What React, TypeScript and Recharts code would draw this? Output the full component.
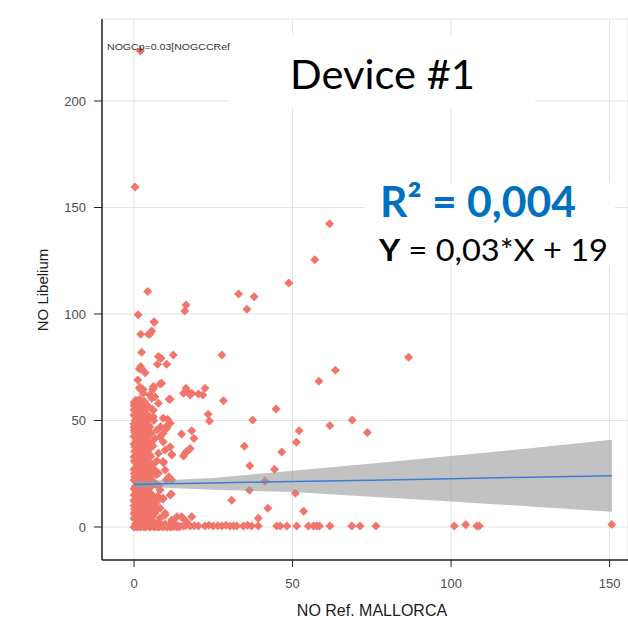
import {
  CartesianGrid,
  ComposedChart,
  Area,
  Line,
  Scatter,
  XAxis,
  YAxis,
} from 'recharts';

// axis ticks
const xTicks = [0, 50, 100, 150];
const yTicks = [0, 50, 100, 150, 200];

// [NO Ref. MALLORCA, NO Libelium] pairs
const outliers: [number, number][] = [
  [2, 223.5], [0.3, 159.6], [4.3, 110.6], [1.3, 99.7], [6.3, 96.4], [2.1, 90.5],
  [5, 90.6], [5.6, 92], [16.4, 104.2], [16, 101.4], [33, 109.4], [37.9, 108.1],
  [35.6, 102.2], [48.8, 114.6], [57, 125.5], [61.7, 142.4],
];

const midPoints: [number, number][] = [
  [27.7, 80.8], [86.6, 79.7], [63.5, 73.6], [58.3, 68.4], [16.4, 65.1], [15.6, 62.8],
  [17.7, 62], [22.4, 65.1], [21.7, 62], [28.2, 59.3], [44.8, 55.4], [23.4, 52.9],
  [23.8, 49.8], [37.4, 50.2], [68.8, 50.2], [61.8, 47.6], [52.1, 45.2], [73.6, 44.4],
  [15, 43.7], [18.2, 45.2], [18.9, 41.6], [51.2, 39.8], [17.5, 36.5], [16.6, 35.4],
  [15.6, 33.3], [34.8, 37.9], [46.6, 35.2], [36.5, 28.8], [44.3, 27.1], [41.3, 21.6],
  [36.4, 17.2], [50.9, 15.8], [30.8, 12.5], [42.2, 8.8], [53.5, 7.4], [39.2, 4.1],
  [15.4, 4.1],
];

const nearPoints: [number, number][] = [
  [6.4, 96.1], [4.5, 90.5], [2.4, 82], [7.7, 80], [8.5, 79.2], [12.4, 80.8], [7.4, 76.4],
  [10.3, 76.4], [2.1, 75.3], [2.7, 73.7], [1.7, 74.2], [3.5, 72.4], [1.2, 69], [8.7, 67.5],
  [8.2, 67.1], [6.1, 65.9], [5.9, 64.6], [6.1, 65.1], [1.9, 65.6], [2.9, 64.6], [1.7, 65.1],
  [2.9, 62.8], [5, 62], [6.6, 61.2], [16.6, 64], [18.2, 62.8], [20.3, 62.4], [5.6, 60.4],
  [11.1, 60], [11.4, 60], [7.7, 58.1], [5.7, 55.3], [0.6, 55.3], [6.1, 54.9], [6.1, 51.8],
  [9.2, 51], [10.6, 50.6], [11.4, 48.7], [11.1, 48.4], [10.1, 47.1], [8.4, 47.1], [10.3, 46.3],
  [7.2, 45.5], [9.2, 44], [8.2, 42.4], [6.6, 41.6], [9.2, 40], [5, 39.3], [11.4, 37.7],
  [17.7, 36.9], [9.8, 36.2], [7.7, 34.6], [16.1, 34.6], [11.9, 34.1], [5, 33.8], [11.9, 33.8],
  [9.2, 30.7], [9.3, 30.2], [9.8, 26.8], [7.7, 25.2], [11, 23.6], [10.8, 22.9], [10.1, 22.1],
  [11.9, 22.1], [7.7, 19.4], [5.6, 19.4], [2.9, 19.4], [8.2, 17.4], [11.8, 15.5], [11.4, 15],
  [9.2, 13.5], [9.1, 13], [7.2, 11.9], [5.6, 9.5], [8.2, 8.8], [9.8, 6.4], [9.8, 5.6],
  [8.2, 4.1], [11.9, 3.3], [13.5, 4.8], [15, 4.8], [18.2, 4.8], [16.6, 2.5],
];

const densePoints: [number, number][] = [
  [0, 57], [0.5, 54], [1, 56], [2, 52], [0.3, 50], [1.5, 49], [3, 51], [0, 47], [2.5, 46],
  [1, 44], [4, 45], [0.5, 42], [2, 41], [3.5, 43], [0, 39], [1.5, 38], [3, 37], [0.8, 36],
  [2.2, 35], [4.5, 36], [0, 33], [1.2, 32], [3, 31], [0.5, 30], [2, 29], [4, 30], [0, 27],
  [1.5, 26], [3, 27], [0.7, 24], [2.5, 23], [4, 24], [0, 22], [1.8, 21], [0.4, 19], [3.2, 18],
  [1, 17], [0, 15], [2.2, 16], [4, 14], [0.6, 13], [1.8, 12], [3, 11], [0, 10], [1.2, 9],
  [2.6, 8], [4.2, 9], [0.3, 7], [1.6, 6], [3.4, 5], [0, 4], [1, 3], [2.4, 2.5], [0.5, 1.5],
  [3.8, 2], [0, 48.5], [1, 52], [2.5, 55], [3.8, 53], [4.5, 48], [0.2, 44.5], [1.6, 41],
  [2.8, 39.5], [0.8, 33.5], [3.6, 33.5], [2, 31], [5, 28], [1, 28.5], [3.5, 25], [0.1, 25],
  [2, 25.5], [4.8, 21], [1.3, 23.5], [2.8, 20], [0.9, 20.5], [5.2, 16], [1.4, 14.5],
  [3.8, 12], [0.2, 12], [2.6, 13.5], [4.8, 6], [1.9, 10.5], [0.8, 8.5], [3.2, 7], [2.2, 4],
  [0.4, 5.5], [5.5, 11], [5.8, 25], [6, 38], [5.4, 44], [6.2, 50], [4.2, 57], [3.2, 59],
  [0.6, 59.5], [1.8, 60], [6.5, 30], [6.8, 20], [0, 52.5], [0.2, 35.5], [0.4, 17.5],
  [4.4, 40], [3.6, 47], [2.4, 44], [5.2, 33], [6.4, 27], [4.6, 18], [6.2, 14], [7, 8],
  [5.4, 3], [6.6, 6.5], [7.2, 31], [4.2, 28], [1.2, 46.5], [0, 42.5], [2.9, 15],
  // second pass over the solid block
  [0, 55], [1.4, 57.5], [2.6, 57], [3.4, 54.5], [0.8, 51], [2.2, 49.5], [3.9, 50], [4.8, 52],
  [0.1, 45.5], [1.8, 46], [3, 45], [5, 47], [0.6, 40.5], [2.8, 42.5], [3.8, 38.5], [5.6, 40],
  [0.3, 37.5], [1.9, 37], [3.2, 35], [4.9, 38], [0.1, 31], [1.6, 34], [2.7, 33], [4.1, 32.5],
  [0.6, 28], [1.8, 27.5], [2.9, 29.5], [4.4, 26], [5.6, 29.5], [0.2, 23.5], [1.5, 24.5],
  [3.3, 22.5], [4.3, 22], [5.4, 24], [0.6, 21.5], [2.1, 19], [3.6, 20], [5.1, 19], [0, 18],
  [1.2, 15.5], [2.6, 17.5], [3.8, 16.5], [0.5, 14.5], [1.4, 11], [3.2, 13], [4.6, 12.5],
  [0, 12.5], [2.2, 10], [3.6, 9.5], [5.2, 8], [0.8, 10.5], [0.2, 8.5], [1.8, 7.5], [3, 6],
  [4.4, 4.5], [0.6, 4], [1.6, 4.5], [2.8, 3], [5.8, 5], [0, 6.5], [1, 1.5], [2, 2], [3.4, 1.5],
  [4.8, 2], [6.2, 2.5], [1, 39.5], [2.4, 38], [4, 42], [1.4, 35.5], [2.8, 26], [4.7, 29.5],
  [6, 21.5], [6.4, 10.5], [7.4, 14.5], [7, 24.5], [0, 58.5], [2.2, 58.5], [1.2, 53.5],
  [3.2, 48], [4.2, 34.5], [0.4, 26.5], [2.4, 21], [1.6, 18.5], [3.8, 27.5], [2, 13],
];

const zeroRow: [number, number][] = [
  [0, 0], [0.5, 0.4], [1, 0], [1.5, 0.3], [2, 0], [2.5, 0.5], [3, 0.2], [3.5, 0], [4, 0.4],
  [4.5, 0.3], [5, 0], [5.5, 0.5], [6, 0.4], [6.5, 0], [7, 0.5], [7.5, 0], [8, 0.2], [8.5, 0.5],
  [9, 0], [9.5, 0.5], [10, 0.3], [10.5, 0], [11, 0.5], [11.5, 0], [12, 0.4], [12.5, 0.2],
  [13, 0.5], [13.5, 0], [14, 0.4], [14.5, 0.2], [15.6, 0.5], [17.7, 0.5], [20.3, 0.5],
  [22.4, 0.5], [25, 0.5], [27.7, 0.5], [30.3, 0.5], [32.4, 0.5], [34.5, 0.5], [37.1, 0.5],
  [39.2, 0.5], [45, 0.5], [46.1, 0.5], [48.2, 0.5], [51.3, 0.5], [55, 0.5], [56.6, 0.5],
  [57.6, 0.5], [58.5, 0.5], [61.8, 0.5], [68.7, 0.5], [71.3, 0.5], [76.3, 0.5], [101, 0.5],
  [104.6, 1], [108.1, 0.5], [108.9, 0.5], [150.7, 1.2],
  [0.8, 1.8], [2.2, 1.2], [3.8, 1], [5.2, 1.5], [6.8, 1.2], [8.2, 1.8], [9.8, 1.4],
  [11.2, 1.2], [12.8, 1.6], [1.6, 2.8], [4.6, 2.6], [7.6, 2.2], [16.4, 0.8], [19, 0.6],
  [23.6, 0.8], [26.4, 0.6], [29, 0.8], [31.4, 0.6], [35.8, 0.8],
];

// smooth fit and its confidence band
const bandX = [0, 10, 25, 50, 75, 100, 125, 150.7];
const bandLow = [18.1, 18.4, 17.5, 16.4, 14.2, 12.0, 9.6, 7.2];
const bandHigh = [21.9, 21.9, 23.0, 26.4, 29.8, 33.3, 37.0, 41.0];
const fitY = [20.0, 20.3, 20.7, 21.4, 22.0, 22.7, 23.4, 24.1];

const points = [...densePoints, ...zeroRow, ...nearPoints, ...midPoints, ...outliers].map(
  ([x, y]) => ({ x, y })
);
const bandRows = bandX.map((x, i) => ({ x, band: [bandLow[i], bandHigh[i]], fit: fitY[i] }));

const Diamond = (props: any) => {
  const { cx, cy } = props;
  const r = 4.5;
  return (
    <polygon
      points={`${cx},${cy - r} ${cx + r},${cy} ${cx},${cy + r} ${cx - r},${cy}`}
      fill="#F2756B"
    />
  );
};

const tickStyle = { fill: '#4D4D4D', fontSize: 13, fontFamily: 'Liberation Sans, Arial, sans-serif' };

export default function App() {
  return (
    <div style={{ position: 'absolute', left: 0, top: 0, width: 628, height: 620, background: '#fff' }}>
      <ComposedChart
        width={628}
        height={620}
        data={bandRows}
        margin={{ top: 19, right: 0, bottom: 0, left: 0 }}
      >
        <CartesianGrid stroke="#E3E3E3" />
        <XAxis
          dataKey="x"
          type="number"
          domain={[-10.1, 155.8]}
          allowDataOverflow
          ticks={xTicks}
          height={60}
          tick={tickStyle}
          tickSize={7}
          tickMargin={12}
          axisLine={{ stroke: '#222', strokeWidth: 1.5 }}
          tickLine={{ stroke: '#222' }}
        />
        <XAxis
          xAxisId="top"
          orientation="top"
          dataKey="x"
          type="number"
          domain={[-10.1, 155.8]}
          allowDataOverflow
          ticks={xTicks}
          height={0}
          tick={false}
          tickSize={8}
          axisLine={{ stroke: '#222', strokeWidth: 1.5 }}
          tickLine={{ stroke: '#222' }}
        />
        <YAxis
          type="number"
          domain={[-15.5, 238.5]}
          allowDataOverflow
          ticks={yTicks}
          width={102}
          tick={tickStyle}
          tickSize={8}
          tickMargin={8}
          axisLine={{ stroke: '#222', strokeWidth: 1.5 }}
          tickLine={{ stroke: '#222' }}
        />
        <Scatter data={points} dataKey="y" shape={Diamond} isAnimationActive={false} />
        <Area
          dataKey="band"
          type="linear"
          stroke="none"
          fill="#999999"
          fillOpacity={0.6}
          isAnimationActive={false}
          zIndex={700}
        />
        <Line
          dataKey="fit"
          type="linear"
          stroke="#3C7DD9"
          strokeWidth={1.5}
          dot={false}
          isAnimationActive={false}
          zIndex={800}
        />
      </ComposedChart>
      <svg
        width={628}
        height={620}
        style={{ position: 'absolute', left: 0, top: 0, pointerEvents: 'none' }}
      >
        <text x={107} y={50} fontSize={9} fill="#333" fontFamily="Liberation Sans, Arial, sans-serif" textLength={123} lengthAdjust="spacingAndGlyphs">
          NOGCp=0.03[NOGCCRef
        </text>
        <rect x={230} y={35} width={305} height={73} fill="#fff" />
        <text x={290} y={89} fontSize={40} fill="#000" fontFamily="Lato, sans-serif" textLength={185} lengthAdjust="spacingAndGlyphs">
          Device #1
        </text>
        <rect x={365} y={183} width={250} height={82} fill="#fff" />
        <text x={380} y={217} fontSize={42} fontWeight="bold" fill="#0070C0" fontFamily="Lato, sans-serif" textLength={196} lengthAdjust="spacingAndGlyphs">
          R² = 0,004
        </text>
        <text x={379} y={261} fontSize={30} fill="#000" fontFamily="Lato, sans-serif" textLength={229} lengthAdjust="spacingAndGlyphs">
          <tspan fontWeight="bold">Y</tspan> = 0,03*X + 19
        </text>
        <text
          x={42}
          y={290}
          transform="rotate(-90 42 290)"
          textAnchor="middle"
          dominantBaseline="central"
          fontSize={15}
          fill="#1A1A1A"
          fontFamily="Liberation Sans, Arial, sans-serif"
        >
          NO Libelium
        </text>
        <text x={372} y={616} textAnchor="middle" fontSize={16} fill="#1A1A1A" fontFamily="Liberation Sans, Arial, sans-serif">
          NO Ref. MALLORCA
        </text>
      </svg>
    </div>
  );
}
